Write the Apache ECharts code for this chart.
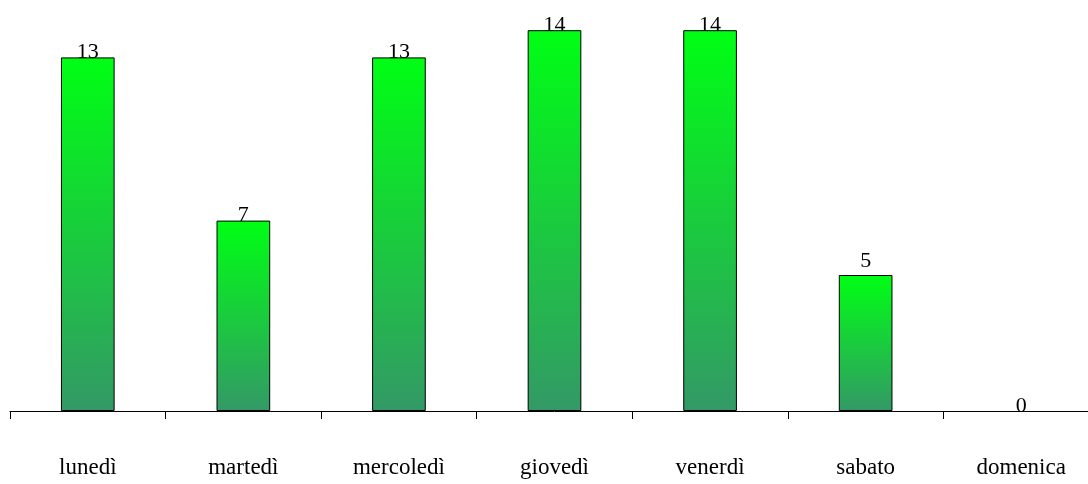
<!DOCTYPE html>
<html>
<head>
<meta charset="utf-8">
<script src="https://cdn.jsdelivr.net/npm/echarts@6/dist/echarts.min.js"></script>
<style>
  html, body { margin: 0; padding: 0; background: #fff; overflow: hidden; width: 1088px; height: 484px; }
  /* the plot runs slightly past the right edge of the page */
  #chart { width: 1099px; height: 484px; }
</style>
</head>
<body>
<div id="chart"></div>
<script>
// Giorni della settimana e conteggi
const days = ['lunedì', 'martedì', 'mercoledì', 'giovedì', 'venerdì', 'sabato', 'domenica'];
const counts = [13, 7, 13, 14, 14, 5, 0];

const serif = 'Liberation Serif, Times New Roman, serif';

// Per-bar label offsets (the sabato label sits a little higher above its bar)
const labelGap = { sabato: 3 };

const barData = counts.map((v, i) => {
  const item = { value: v };
  if (v === 0) item.itemStyle = { borderWidth: 0 };
  if (labelGap[days[i]] !== undefined) item.label = { distance: labelGap[days[i]] };
  return item;
});

const chart = echarts.init(document.getElementById('chart'));

chart.setOption({
  animation: false,
  backgroundColor: '#ffffff',
  grid: { left: 10, right: 0, top: 3, bottom: 73, containLabel: false },
  xAxis: {
    type: 'category',
    data: days,
    axisLine: { show: true, lineStyle: { color: '#000', width: 1 } },
    axisTick: { show: true, inside: false, length: 8, alignWithLabel: false, lineStyle: { color: '#000' } },
    axisLabel: {
      color: '#000',
      fontFamily: serif,
      fontSize: 23,
      margin: 45,
      interval: 0
    },
    splitLine: { show: false }
  },
  yAxis: {
    type: 'value',
    min: 0,
    max: 15,
    show: false,
    splitLine: { show: false }
  },
  series: [{
    type: 'bar',
    data: barData,
    barWidth: '34.5%',
    itemStyle: {
      borderColor: '#000',
      borderWidth: 1,
      color: new echarts.graphic.LinearGradient(0, 0, 0, 1, [
        { offset: 0, color: '#00ff14' },
        { offset: 1, color: '#339966' }
      ])
    },
    label: {
      show: true,
      position: 'top',
      distance: -6,
      color: '#000',
      fontFamily: serif,
      fontSize: 22
    }
  }]
});
</script>
</body>
</html>
